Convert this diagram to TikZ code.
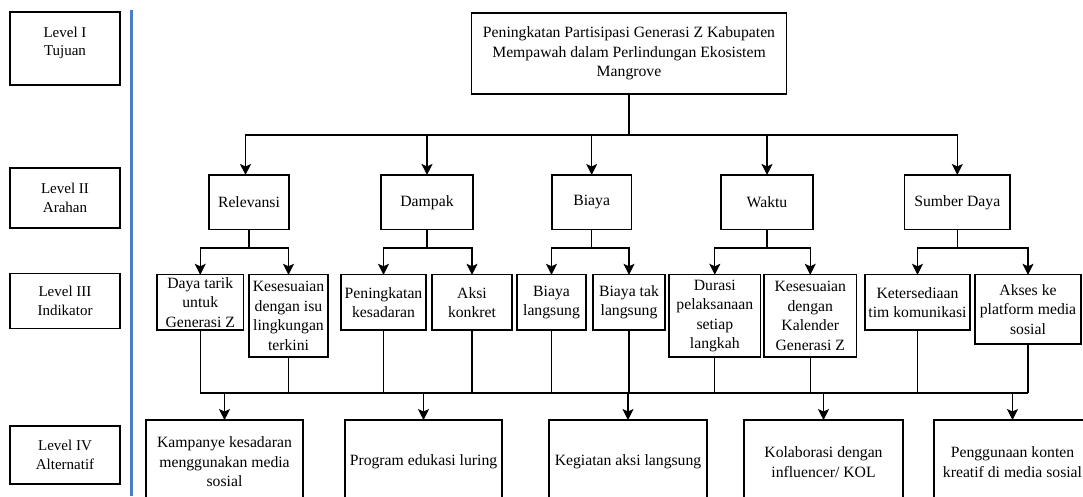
\documentclass[tikz,border=0pt]{standalone}
\usepackage{fontspec}
\setmainfont{Liberation Serif}
\usetikzlibrary{arrows.meta,calc}
\definecolor{sepblue}{RGB}{74,126,200}
\tikzset{
  box/.style={draw=black, line width=1.3pt, fill=white, inner sep=1pt, outer sep=0pt, align=center,
    font=\fontsize{15.7}{19.4}\selectfont},
  lvl/.style={box, minimum width=110pt, font=\fontsize{15}{18.5}\selectfont},
  conn/.style={line width=1.2pt, draw=black},
  arr/.style={conn, -{Stealth[length=11pt,width=11pt,inset=2.5pt]}},
}
\begin{document}
\begin{tikzpicture}[x=1pt,y=-1pt]
\useasboundingbox (0,0) rectangle (1083,496);
\clip (0,0) rectangle (1083,496);
\fill[white] (0,0) rectangle (1083,496);

% level labels
\node[lvl, minimum height=73pt] (l1) at (65,48.5) {\raisebox{2pt}[0pt][0pt]{\begin{tabular}{@{}c@{}}Level I\\Tujuan\end{tabular}}};
\node[lvl, minimum height=60pt] (l2) at (65,198) {Level II\\Arahan};
\node[lvl, minimum height=55.5pt] (l3) at (65,301) {Level III\\Indikator};
\node[lvl, minimum height=58pt] (l4) at (65,455) {Level IV\\Alternatif};

% separator
\draw[sepblue, line width=3pt] (131,10) -- (131,496);

% level I
\node[box, minimum width=315.5pt, minimum height=81pt] (top) at (629,53.5)
  {Peningkatan Partisipasi Generasi Z Kabupaten\\Mempawah dalam Perlindungan Ekosistem\\Mangrove};

% level II
\node[box, minimum width=80pt, minimum height=54.7pt] (rel) at (249,202.3) {Relevansi};
\node[box, minimum width=92pt, minimum height=54.7pt] (dam) at (427,202.3) {Dampak};
\node[box, minimum width=79.4pt, minimum height=54.7pt] (bia) at (591.7,202.3) {Biaya};
\node[box, minimum width=92pt, minimum height=54.7pt] (wak) at (767,202.3) {Waktu};
\node[box, minimum width=105.4pt, minimum height=54.7pt] (sum) at (957.3,202.3) {Sumber Daya};

% level III
\node[box, minimum width=86.5pt, minimum height=55.2pt] (dt) at (200.25,302.4) {Daya tarik\\untuk\\Generasi Z};
\node[box, minimum width=79pt, minimum height=82.2pt] (ki) at (288.5,315.9) {Kesesuaian\\dengan isu\\lingkungan\\terkini};
\node[box, minimum width=85pt, minimum height=55.2pt] (pk) at (383.5,302.4) {Peningkatan\\kesadaran};
\node[box, minimum width=80pt, minimum height=55.2pt] (ak) at (472,302.4) {Aksi\\konkret};
\node[box, minimum width=69pt, minimum height=55.2pt] (bl) at (551.5,302.4) {Biaya\\langsung};
\node[box, minimum width=72pt, minimum height=55.2pt] (btl) at (629,302.4) {Biaya tak\\langsung};
\node[box, minimum width=91.6pt, minimum height=82.2pt] (du) at (714.8,315.9) {Durasi\\pelaksanaan\\setiap\\langkah};
\node[box, minimum width=92.5pt, minimum height=82.2pt] (kk) at (810.25,315.9) {Kesesuaian\\dengan\\Kalender\\Generasi Z};
\node[box, minimum width=105pt, minimum height=55.2pt] (kt) at (917.5,302.4) {Ketersediaan\\tim komunikasi};
\node[box, minimum width=106pt, minimum height=69.2pt] (ap) at (1028,309.4) {Akses ke\\platform media\\sosial};

% level IV
\node[box, minimum width=157pt, minimum height=84pt] (kam) at (224.5,462) {Kampanye kesadaran\\menggunakan media\\sosial};
\node[box, minimum width=157pt, minimum height=84pt] (pro) at (423.5,462) {Program edukasi luring};
\node[box, minimum width=158pt, minimum height=84pt] (keg) at (628,462) {Kegiatan aksi langsung};
\node[box, minimum width=159pt, minimum height=84pt] (kol) at (823.5,462) {Kolaborasi dengan\\influencer/ KOL};
\node[box, minimum width=157pt, minimum height=84pt] (pen) at (1012.5,462) {Penggunaan konten\\kreatif di media sosial};

% junctions
\coordinate (hub) at (0,135);
\coordinate (split) at (0,248);
\coordinate (bus) at (0,393);

% level I -> II
\draw[arr] (top.south) -- (top.south |- hub) -| ([xshift=-3.5pt]rel.north);
\draw[arr] (top.south |- hub) -| (dam.north);
\draw[arr] (top.south |- hub) -| (bia.north);
\draw[arr] (top.south |- hub) -| (wak.north);
\draw[arr] (top.south |- hub) -| (sum.north);

% level II -> III
\draw[arr] (rel.south) -- (rel.south |- split) -| (dt.north);
\draw[arr] (rel.south |- split) -| (ki.north);
\draw[arr] (dam.south) -- (dam.south |- split) -| (pk.north);
\draw[arr] (dam.south |- split) -| (ak.north);
\draw[arr] (bia.south) -- (bia.south |- split) -| (bl.north);
\draw[arr] (bia.south |- split) -| (btl.north);
\draw[arr] (wak.south) -- (wak.south |- split) -| (du.north);
\draw[arr] (wak.south |- split) -| (kk.north);
\draw[arr] (sum.south) -- (sum.south |- split) -| (kt.north);
\draw[arr] (sum.south |- split) -| (ap.north);

% level III -> bus
\foreach \n in {dt,ki,pk,ak,bl,btl,du,kk,kt,ap}{
  \draw[conn] (\n.south) -- (\n.south |- bus);
}
\draw[conn] (dt.south |- bus) -- (ap.south |- bus);

% bus -> level IV
\foreach \n in {kam,pro,keg,kol,pen}{
  \draw[arr] (\n.north |- bus) -- (\n.north);
}
\end{tikzpicture}
\end{document}
